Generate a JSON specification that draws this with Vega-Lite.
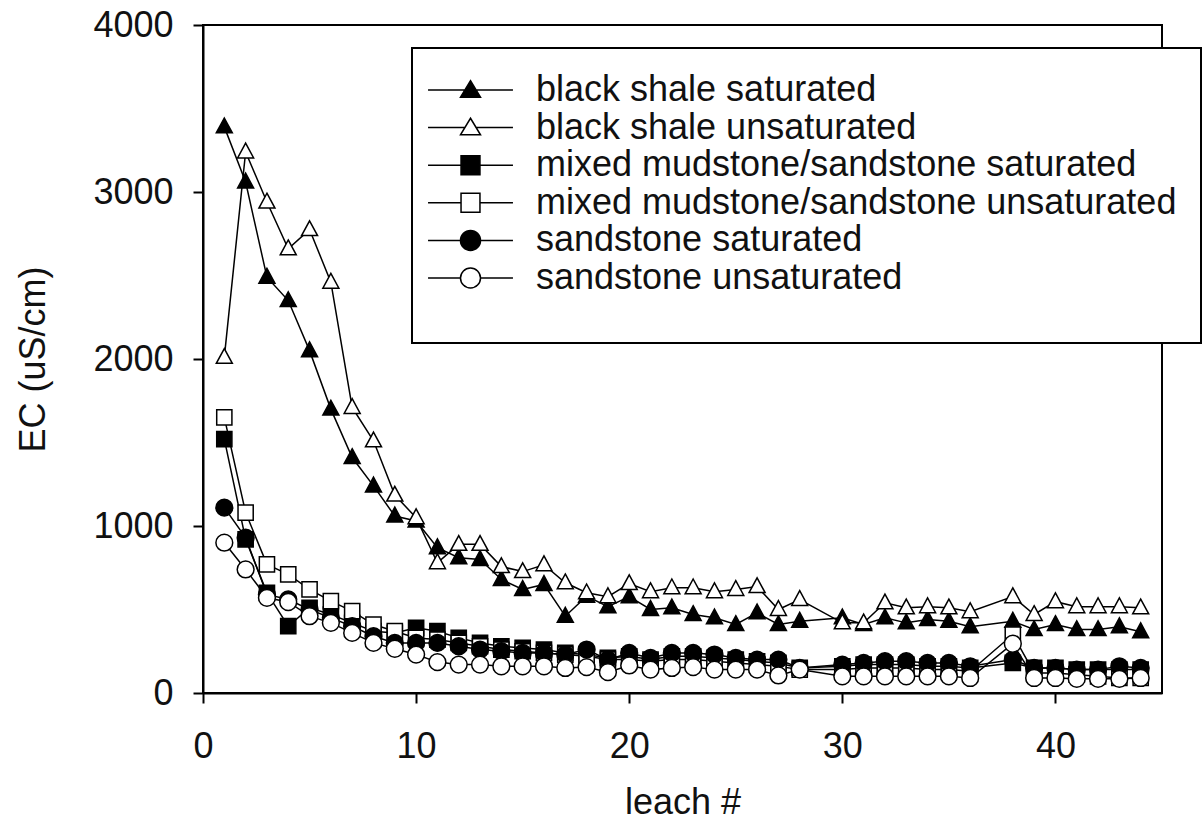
{
  "$schema": "https://vega.github.io/schema/vega-lite/v6.json",
  "width": 959,
  "height": 668,
  "autosize": "none",
  "padding": {"left": 203, "top": 25, "right": 42, "bottom": 134},
  "background": "white",
  "config": {
    "view": {"stroke": "black", "strokeWidth": 2},
    "axis": {
      "domainColor": "black", "domainWidth": 2, "tickColor": "black", "tickWidth": 2, "tickSize": 10,
      "labelFont": "Liberation Sans", "labelFontSize": 36, "labelColor": "#111",
      "titleFont": "Liberation Sans", "titleFontSize": 36, "titleFontWeight": "normal", "titleColor": "#111",
      "grid": false, "labelFlush": false, "labelOverlap": false
    }
  },
  "datasets": {
    "pts": [
      {"series":"black shale saturated","leach":1,"ec":3390},{"series":"black shale saturated","leach":2,"ec":3060},{"series":"black shale saturated","leach":3,"ec":2490},{"series":"black shale saturated","leach":4,"ec":2350},{"series":"black shale saturated","leach":5,"ec":2050},{"series":"black shale saturated","leach":6,"ec":1700},{"series":"black shale saturated","leach":7,"ec":1410},{"series":"black shale saturated","leach":8,"ec":1240},{"series":"black shale saturated","leach":9,"ec":1060},{"series":"black shale saturated","leach":10,"ec":1030},{"series":"black shale saturated","leach":11,"ec":870},{"series":"black shale saturated","leach":12,"ec":810},{"series":"black shale saturated","leach":13,"ec":800},{"series":"black shale saturated","leach":14,"ec":680},{"series":"black shale saturated","leach":15,"ec":620},{"series":"black shale saturated","leach":16,"ec":650},{"series":"black shale saturated","leach":17,"ec":460},{"series":"black shale saturated","leach":18,"ec":580},{"series":"black shale saturated","leach":19,"ec":517},{"series":"black shale saturated","leach":20,"ec":577},{"series":"black shale saturated","leach":21,"ec":500},{"series":"black shale saturated","leach":22,"ec":510},{"series":"black shale saturated","leach":23,"ec":470},{"series":"black shale saturated","leach":24,"ec":450},{"series":"black shale saturated","leach":25,"ec":410},{"series":"black shale saturated","leach":26,"ec":480},{"series":"black shale saturated","leach":27,"ec":410},{"series":"black shale saturated","leach":28,"ec":430},{"series":"black shale saturated","leach":30,"ec":450},{"series":"black shale saturated","leach":31,"ec":410},{"series":"black shale saturated","leach":32,"ec":450},{"series":"black shale saturated","leach":33,"ec":420},{"series":"black shale saturated","leach":34,"ec":440},{"series":"black shale saturated","leach":35,"ec":430},{"series":"black shale saturated","leach":36,"ec":397},{"series":"black shale saturated","leach":38,"ec":430},{"series":"black shale saturated","leach":39,"ec":380},{"series":"black shale saturated","leach":40,"ec":410},{"series":"black shale saturated","leach":41,"ec":380},{"series":"black shale saturated","leach":42,"ec":380},{"series":"black shale saturated","leach":43,"ec":397},{"series":"black shale saturated","leach":44,"ec":367},
      {"series":"black shale unsaturated","leach":1,"ec":2010},{"series":"black shale unsaturated","leach":2,"ec":3240},{"series":"black shale unsaturated","leach":3,"ec":2940},{"series":"black shale unsaturated","leach":4,"ec":2660},{"series":"black shale unsaturated","leach":5,"ec":2775},{"series":"black shale unsaturated","leach":6,"ec":2460},{"series":"black shale unsaturated","leach":7,"ec":1710},{"series":"black shale unsaturated","leach":8,"ec":1510},{"series":"black shale unsaturated","leach":9,"ec":1185},{"series":"black shale unsaturated","leach":10,"ec":1050},{"series":"black shale unsaturated","leach":11,"ec":780},{"series":"black shale unsaturated","leach":12,"ec":890},{"series":"black shale unsaturated","leach":13,"ec":890},{"series":"black shale unsaturated","leach":14,"ec":757},{"series":"black shale unsaturated","leach":15,"ec":727},{"series":"black shale unsaturated","leach":16,"ec":768},{"series":"black shale unsaturated","leach":17,"ec":660},{"series":"black shale unsaturated","leach":18,"ec":600},{"series":"black shale unsaturated","leach":19,"ec":577},{"series":"black shale unsaturated","leach":20,"ec":655},{"series":"black shale unsaturated","leach":21,"ec":607},{"series":"black shale unsaturated","leach":22,"ec":630},{"series":"black shale unsaturated","leach":23,"ec":630},{"series":"black shale unsaturated","leach":24,"ec":607},{"series":"black shale unsaturated","leach":25,"ec":620},{"series":"black shale unsaturated","leach":26,"ec":637},{"series":"black shale unsaturated","leach":27,"ec":500},{"series":"black shale unsaturated","leach":28,"ec":560},{"series":"black shale unsaturated","leach":30,"ec":420},{"series":"black shale unsaturated","leach":31,"ec":420},{"series":"black shale unsaturated","leach":32,"ec":540},{"series":"black shale unsaturated","leach":33,"ec":510},{"series":"black shale unsaturated","leach":34,"ec":517},{"series":"black shale unsaturated","leach":35,"ec":510},{"series":"black shale unsaturated","leach":36,"ec":487},{"series":"black shale unsaturated","leach":38,"ec":577},{"series":"black shale unsaturated","leach":39,"ec":470},{"series":"black shale unsaturated","leach":40,"ec":547},{"series":"black shale unsaturated","leach":41,"ec":517},{"series":"black shale unsaturated","leach":42,"ec":517},{"series":"black shale unsaturated","leach":43,"ec":517},{"series":"black shale unsaturated","leach":44,"ec":510},
      {"series":"mixed mudstone/sandstone saturated","leach":1,"ec":1520},{"series":"mixed mudstone/sandstone saturated","leach":2,"ec":920},{"series":"mixed mudstone/sandstone saturated","leach":3,"ec":600},{"series":"mixed mudstone/sandstone saturated","leach":4,"ec":400},{"series":"mixed mudstone/sandstone saturated","leach":5,"ec":510},{"series":"mixed mudstone/sandstone saturated","leach":6,"ec":470},{"series":"mixed mudstone/sandstone saturated","leach":7,"ec":420},{"series":"mixed mudstone/sandstone saturated","leach":8,"ec":370},{"series":"mixed mudstone/sandstone saturated","leach":9,"ec":360},{"series":"mixed mudstone/sandstone saturated","leach":10,"ec":390},{"series":"mixed mudstone/sandstone saturated","leach":11,"ec":370},{"series":"mixed mudstone/sandstone saturated","leach":12,"ec":330},{"series":"mixed mudstone/sandstone saturated","leach":13,"ec":300},{"series":"mixed mudstone/sandstone saturated","leach":14,"ec":280},{"series":"mixed mudstone/sandstone saturated","leach":15,"ec":270},{"series":"mixed mudstone/sandstone saturated","leach":16,"ec":260},{"series":"mixed mudstone/sandstone saturated","leach":17,"ec":240},{"series":"mixed mudstone/sandstone saturated","leach":18,"ec":230},{"series":"mixed mudstone/sandstone saturated","leach":19,"ec":210},{"series":"mixed mudstone/sandstone saturated","leach":20,"ec":220},{"series":"mixed mudstone/sandstone saturated","leach":21,"ec":200},{"series":"mixed mudstone/sandstone saturated","leach":22,"ec":220},{"series":"mixed mudstone/sandstone saturated","leach":23,"ec":220},{"series":"mixed mudstone/sandstone saturated","leach":24,"ec":210},{"series":"mixed mudstone/sandstone saturated","leach":25,"ec":200},{"series":"mixed mudstone/sandstone saturated","leach":26,"ec":190},{"series":"mixed mudstone/sandstone saturated","leach":27,"ec":180},{"series":"mixed mudstone/sandstone saturated","leach":28,"ec":150},{"series":"mixed mudstone/sandstone saturated","leach":30,"ec":160},{"series":"mixed mudstone/sandstone saturated","leach":31,"ec":170},{"series":"mixed mudstone/sandstone saturated","leach":32,"ec":170},{"series":"mixed mudstone/sandstone saturated","leach":33,"ec":170},{"series":"mixed mudstone/sandstone saturated","leach":34,"ec":160},{"series":"mixed mudstone/sandstone saturated","leach":35,"ec":160},{"series":"mixed mudstone/sandstone saturated","leach":36,"ec":150},{"series":"mixed mudstone/sandstone saturated","leach":38,"ec":180},{"series":"mixed mudstone/sandstone saturated","leach":39,"ec":150},{"series":"mixed mudstone/sandstone saturated","leach":40,"ec":150},{"series":"mixed mudstone/sandstone saturated","leach":41,"ec":140},{"series":"mixed mudstone/sandstone saturated","leach":42,"ec":140},{"series":"mixed mudstone/sandstone saturated","leach":43,"ec":140},{"series":"mixed mudstone/sandstone saturated","leach":44,"ec":140},
      {"series":"mixed mudstone/sandstone unsaturated","leach":1,"ec":1650},{"series":"mixed mudstone/sandstone unsaturated","leach":2,"ec":1080},{"series":"mixed mudstone/sandstone unsaturated","leach":3,"ec":770},{"series":"mixed mudstone/sandstone unsaturated","leach":4,"ec":710},{"series":"mixed mudstone/sandstone unsaturated","leach":5,"ec":620},{"series":"mixed mudstone/sandstone unsaturated","leach":6,"ec":550},{"series":"mixed mudstone/sandstone unsaturated","leach":7,"ec":490},{"series":"mixed mudstone/sandstone unsaturated","leach":8,"ec":410},{"series":"mixed mudstone/sandstone unsaturated","leach":9,"ec":370},{"series":"mixed mudstone/sandstone unsaturated","leach":10,"ec":330},{"series":"mixed mudstone/sandstone unsaturated","leach":11,"ec":320},{"series":"mixed mudstone/sandstone unsaturated","leach":12,"ec":300},{"series":"mixed mudstone/sandstone unsaturated","leach":13,"ec":280},{"series":"mixed mudstone/sandstone unsaturated","leach":14,"ec":260},{"series":"mixed mudstone/sandstone unsaturated","leach":15,"ec":250},{"series":"mixed mudstone/sandstone unsaturated","leach":16,"ec":240},{"series":"mixed mudstone/sandstone unsaturated","leach":17,"ec":230},{"series":"mixed mudstone/sandstone unsaturated","leach":18,"ec":220},{"series":"mixed mudstone/sandstone unsaturated","leach":19,"ec":200},{"series":"mixed mudstone/sandstone unsaturated","leach":20,"ec":200},{"series":"mixed mudstone/sandstone unsaturated","leach":21,"ec":190},{"series":"mixed mudstone/sandstone unsaturated","leach":22,"ec":200},{"series":"mixed mudstone/sandstone unsaturated","leach":23,"ec":200},{"series":"mixed mudstone/sandstone unsaturated","leach":24,"ec":190},{"series":"mixed mudstone/sandstone unsaturated","leach":25,"ec":180},{"series":"mixed mudstone/sandstone unsaturated","leach":26,"ec":170},{"series":"mixed mudstone/sandstone unsaturated","leach":27,"ec":160},{"series":"mixed mudstone/sandstone unsaturated","leach":28,"ec":140},{"series":"mixed mudstone/sandstone unsaturated","leach":30,"ec":140},{"series":"mixed mudstone/sandstone unsaturated","leach":31,"ec":150},{"series":"mixed mudstone/sandstone unsaturated","leach":32,"ec":150},{"series":"mixed mudstone/sandstone unsaturated","leach":33,"ec":150},{"series":"mixed mudstone/sandstone unsaturated","leach":34,"ec":140},{"series":"mixed mudstone/sandstone unsaturated","leach":35,"ec":140},{"series":"mixed mudstone/sandstone unsaturated","leach":36,"ec":130},{"series":"mixed mudstone/sandstone unsaturated","leach":38,"ec":350},{"series":"mixed mudstone/sandstone unsaturated","leach":39,"ec":120},{"series":"mixed mudstone/sandstone unsaturated","leach":40,"ec":120},{"series":"mixed mudstone/sandstone unsaturated","leach":41,"ec":110},{"series":"mixed mudstone/sandstone unsaturated","leach":42,"ec":100},{"series":"mixed mudstone/sandstone unsaturated","leach":43,"ec":90},{"series":"mixed mudstone/sandstone unsaturated","leach":44,"ec":90},
      {"series":"sandstone saturated","leach":1,"ec":1110},{"series":"sandstone saturated","leach":2,"ec":930},{"series":"sandstone saturated","leach":3,"ec":590},{"series":"sandstone saturated","leach":4,"ec":560},{"series":"sandstone saturated","leach":5,"ec":500},{"series":"sandstone saturated","leach":6,"ec":450},{"series":"sandstone saturated","leach":7,"ec":400},{"series":"sandstone saturated","leach":8,"ec":340},{"series":"sandstone saturated","leach":9,"ec":300},{"series":"sandstone saturated","leach":10,"ec":300},{"series":"sandstone saturated","leach":11,"ec":300},{"series":"sandstone saturated","leach":12,"ec":280},{"series":"sandstone saturated","leach":13,"ec":260},{"series":"sandstone saturated","leach":14,"ec":250},{"series":"sandstone saturated","leach":15,"ec":240},{"series":"sandstone saturated","leach":16,"ec":240},{"series":"sandstone saturated","leach":17,"ec":230},{"series":"sandstone saturated","leach":18,"ec":260},{"series":"sandstone saturated","leach":19,"ec":200},{"series":"sandstone saturated","leach":20,"ec":240},{"series":"sandstone saturated","leach":21,"ec":210},{"series":"sandstone saturated","leach":22,"ec":240},{"series":"sandstone saturated","leach":23,"ec":240},{"series":"sandstone saturated","leach":24,"ec":230},{"series":"sandstone saturated","leach":25,"ec":210},{"series":"sandstone saturated","leach":26,"ec":200},{"series":"sandstone saturated","leach":27,"ec":200},{"series":"sandstone saturated","leach":28,"ec":150},{"series":"sandstone saturated","leach":30,"ec":170},{"series":"sandstone saturated","leach":31,"ec":180},{"series":"sandstone saturated","leach":32,"ec":190},{"series":"sandstone saturated","leach":33,"ec":190},{"series":"sandstone saturated","leach":34,"ec":180},{"series":"sandstone saturated","leach":35,"ec":180},{"series":"sandstone saturated","leach":36,"ec":160},{"series":"sandstone saturated","leach":38,"ec":200},{"series":"sandstone saturated","leach":39,"ec":150},{"series":"sandstone saturated","leach":40,"ec":150},{"series":"sandstone saturated","leach":41,"ec":140},{"series":"sandstone saturated","leach":42,"ec":140},{"series":"sandstone saturated","leach":43,"ec":160},{"series":"sandstone saturated","leach":44,"ec":150},
      {"series":"sandstone unsaturated","leach":1,"ec":900},{"series":"sandstone unsaturated","leach":2,"ec":740},{"series":"sandstone unsaturated","leach":3,"ec":570},{"series":"sandstone unsaturated","leach":4,"ec":545},{"series":"sandstone unsaturated","leach":5,"ec":460},{"series":"sandstone unsaturated","leach":6,"ec":420},{"series":"sandstone unsaturated","leach":7,"ec":360},{"series":"sandstone unsaturated","leach":8,"ec":300},{"series":"sandstone unsaturated","leach":9,"ec":265},{"series":"sandstone unsaturated","leach":10,"ec":230},{"series":"sandstone unsaturated","leach":11,"ec":185},{"series":"sandstone unsaturated","leach":12,"ec":170},{"series":"sandstone unsaturated","leach":13,"ec":170},{"series":"sandstone unsaturated","leach":14,"ec":160},{"series":"sandstone unsaturated","leach":15,"ec":160},{"series":"sandstone unsaturated","leach":16,"ec":160},{"series":"sandstone unsaturated","leach":17,"ec":150},{"series":"sandstone unsaturated","leach":18,"ec":155},{"series":"sandstone unsaturated","leach":19,"ec":125},{"series":"sandstone unsaturated","leach":20,"ec":165},{"series":"sandstone unsaturated","leach":21,"ec":140},{"series":"sandstone unsaturated","leach":22,"ec":150},{"series":"sandstone unsaturated","leach":23,"ec":155},{"series":"sandstone unsaturated","leach":24,"ec":140},{"series":"sandstone unsaturated","leach":25,"ec":140},{"series":"sandstone unsaturated","leach":26,"ec":140},{"series":"sandstone unsaturated","leach":27,"ec":105},{"series":"sandstone unsaturated","leach":28,"ec":140},{"series":"sandstone unsaturated","leach":30,"ec":100},{"series":"sandstone unsaturated","leach":31,"ec":100},{"series":"sandstone unsaturated","leach":32,"ec":100},{"series":"sandstone unsaturated","leach":33,"ec":100},{"series":"sandstone unsaturated","leach":34,"ec":100},{"series":"sandstone unsaturated","leach":35,"ec":100},{"series":"sandstone unsaturated","leach":36,"ec":90},{"series":"sandstone unsaturated","leach":38,"ec":295},{"series":"sandstone unsaturated","leach":39,"ec":90},{"series":"sandstone unsaturated","leach":40,"ec":90},{"series":"sandstone unsaturated","leach":41,"ec":85},{"series":"sandstone unsaturated","leach":42,"ec":85},{"series":"sandstone unsaturated","leach":43,"ec":85},{"series":"sandstone unsaturated","leach":44,"ec":90}
    ]
  },
  "data": {"name": "pts"},
  "encoding": {
    "x": {"field": "leach", "type": "quantitative",
      "scale": {"domain": [0, 45], "nice": false, "zero": false},
      "axis": {"values": [0, 10, 20, 30, 40], "labelPadding": 26, "title": "leach #", "titleY": 120, "titleBaseline": "alphabetic"}},
    "y": {"field": "ec", "type": "quantitative",
      "scale": {"domain": [0, 4000], "nice": false},
      "axis": {"values": [0, 1000, 2000, 3000, 4000], "format": "d", "labelPadding": 20, "title": "EC (uS/cm)", "titleX": -159, "titleBaseline": "alphabetic"}}
  },
  "layer": [
    {
      "mark": {"type": "line", "strokeWidth": 1.5},
      "encoding": {
        "color": {"field": "series", "type": "nominal",
          "scale": {"domain": ["black shale saturated", "black shale unsaturated", "mixed mudstone/sandstone saturated", "mixed mudstone/sandstone unsaturated", "sandstone saturated", "sandstone unsaturated"],
                    "range": ["black", "black", "black", "black", "black", "black"]},
          "legend": {
            "orient": "none", "legendX": 209, "legendY": 23,
            "title": " ", "titleOrient": "bottom", "titleFontSize": 21, "titlePadding": 2,
            "padding": 24, "strokeColor": "black", "fillColor": "white",
            "labelFont": "Liberation Sans", "labelFontSize": 36, "labelColor": "#111", "labelLimit": 0,
            "labelOffset": 64, "symbolSize": 484, "rowPadding": 1.6, "symbolOpacity": 1,
            "encode": {
              "legend": {"update": {"strokeWidth": {"value": 2}}},
              "symbols": {"update": {
                "shape": {"signal": "indexof(datum.value, 'black shale') >= 0 ? 'M-2.36,0H0.98M2.02,0H5.36M1.5,-0.85L2.41,0.65L0.59,0.65Z' : indexof(datum.value, 'mixed') >= 0 ? 'M-2.36,0H0.64M2.36,0H5.36M0.64,-0.86H2.36V0.86H0.64Z' : 'M-2.36,0H0.59M2.41,0H5.36M2.41,0A0.91,0.91,0,1,1,0.59,0A0.91,0.91,0,1,1,2.41,0Z'"},
                "fill": {"signal": "indexof(datum.value, 'unsaturated') >= 0 ? 'white' : 'black'"},
                "stroke": {"value": "black"},
                "strokeWidth": {"value": 1.5},
                "size": {"value": 484},
                "opacity": {"value": 1}
              }}
            }
          }
        },
        "detail": {"field": "series"}
      }
    },
    {
      "transform": [{"filter": {"field": "series", "equal": "black shale saturated"}}],
      "mark": {"type": "point", "shape": "M0,-1.1L1,0.75L-1,0.75Z", "filled": true, "fill": "black", "stroke": "black", "strokeWidth": 1.5, "opacity": 1, "size": 256}
    },
    {
      "transform": [{"filter": {"field": "series", "equal": "black shale unsaturated"}}],
      "mark": {"type": "point", "shape": "M0,-1.1L1,0.75L-1,0.75Z", "filled": true, "fill": "white", "stroke": "black", "strokeWidth": 1.5, "opacity": 1, "size": 256}
    },
    {
      "transform": [{"filter": {"field": "series", "equal": "mixed mudstone/sandstone saturated"}}],
      "mark": {"type": "point", "shape": "M-0.95,-0.95H0.95V0.95H-0.95Z", "filled": true, "fill": "black", "stroke": "black", "strokeWidth": 1.5, "opacity": 1, "size": 256}
    },
    {
      "transform": [{"filter": {"field": "series", "equal": "mixed mudstone/sandstone unsaturated"}}],
      "mark": {"type": "point", "shape": "M-0.95,-0.95H0.95V0.95H-0.95Z", "filled": true, "fill": "white", "stroke": "black", "strokeWidth": 1.5, "opacity": 1, "size": 256}
    },
    {
      "transform": [{"filter": {"field": "series", "equal": "sandstone saturated"}}],
      "mark": {"type": "point", "shape": "M1.05,0A1.05,1.05,0,1,1,-1.05,0A1.05,1.05,0,1,1,1.05,0Z", "filled": true, "fill": "black", "stroke": "black", "strokeWidth": 1.5, "opacity": 1, "size": 256}
    },
    {
      "transform": [{"filter": {"field": "series", "equal": "sandstone unsaturated"}}],
      "mark": {"type": "point", "shape": "M1.05,0A1.05,1.05,0,1,1,-1.05,0A1.05,1.05,0,1,1,1.05,0Z", "filled": true, "fill": "white", "stroke": "black", "strokeWidth": 1.5, "opacity": 1, "size": 256}
    }
  ]
}
